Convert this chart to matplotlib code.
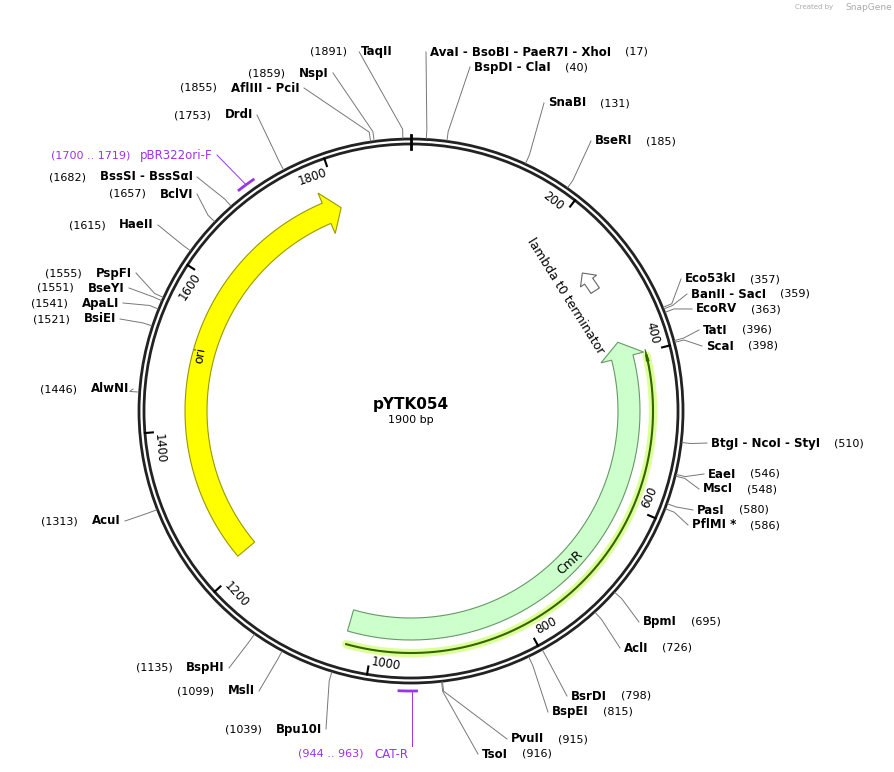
import numpy as np
import matplotlib.pyplot as plt
from matplotlib.patches import Polygon, Circle

TOTAL = 1900
CX, CY, R = 411, 411, 270

# enzyme sites: (name, position, label x, label y)
sites_right = [
    ("AvaI - BsoBI - PaeR7I - XhoI", 17, 430, 52),
    ("BspDI - ClaI", 40, 474, 67),
    ("SnaBI", 131, 548, 103),
    ("BseRI", 185, 595, 141),
    ("Eco53kI", 357, 685, 279),
    ("BanII - SacI", 359, 691, 294),
    ("EcoRV", 363, 696, 309),
    ("TatI", 396, 703, 330),
    ("ScaI", 398, 706, 346),
    ("BtgI - NcoI - StyI", 510, 711, 443),
    ("EaeI", 546, 708, 474),
    ("MscI", 548, 703, 489),
    ("PasI", 580, 697, 510),
    ("PflMI *", 586, 692, 525),
    ("BpmI", 695, 643, 622),
    ("AclI", 726, 624, 648),
    ("BsrDI", 798, 571, 696),
    ("BspEI", 815, 552, 712),
    ("PvuII", 915, 511, 739),
    ("TsoI", 916, 482, 754),
]
sites_left = [
    ("TaqII", 1891, 393, 52),
    ("NspI", 1859, 329, 73),
    ("AflIII - PciI", 1855, 300, 88),
    ("DrdI", 1753, 253, 115),
    ("BssSI - BssSαI", 1682, 193, 177),
    ("BclVI", 1657, 193, 194),
    ("HaeII", 1615, 154, 225),
    ("PspFI", 1555, 132, 273),
    ("BseYI", 1551, 125, 288),
    ("ApaLI", 1541, 119, 303),
    ("BsiEI", 1521, 116, 319),
    ("AlwNI", 1446, 129, 389),
    ("AcuI", 1313, 121, 521),
    ("BspHI", 1135, 225, 668),
    ("MslI", 1099, 255, 691),
    ("Bpu10I", 1039, 322, 729),
]
primers = [("pBR322ori-F", 1700, 1719, 213, 155),
           ("CAT-R", 944, 963, 408, 754)]
ticks = [200, 400, 600, 800, 1000, 1200, 1400, 1600, 1800]


def pt(pos, r):
    a = np.deg2rad(pos / TOTAL * 360)
    return CX + r * np.sin(a), CY - r * np.cos(a)


def arc_arrow(ax, start, end, r, w, head, fc, ec, forward=True, lw=0.8):
    # arrowhead at end if forward else at start
    if forward:
        body = np.linspace(start, end - head, 60)
        tip, base = end, end - head
    else:
        body = np.linspace(start + head, end, 60)
        tip, base = start, start + head
    outer = [pt(p, r + w / 2) for p in body]
    inner = [pt(p, r - w / 2) for p in body[::-1]]
    if forward:
        poly = outer + [pt(base, r + w), pt(tip, r), pt(base, r - w)] + inner
    else:
        poly = [pt(base, r - w), pt(tip, r), pt(base, r + w)] + outer + inner
    ax.add_patch(Polygon(poly, closed=True, fc=fc, ec=ec, lw=lw, zorder=3))


fig = plt.figure(figsize=(8.95, 7.72), dpi=100)
ax = fig.add_axes([0, 0, 1, 1])
ax.set_xlim(0, 895)
ax.set_ylim(772, 0)
ax.axis("off")
rend = fig.canvas.get_renderer()

ax.add_patch(Circle((CX, CY), 267, fill=False, lw=2, ec="#222222"))
ax.add_patch(Circle((CX, CY), 272, fill=False, lw=2, ec="#222222"))

x0, y0 = pt(0, 262); x1, y1 = pt(0, 276)
ax.plot([x0, x1], [y0, y1], color="black", lw=2)
for t in ticks:
    x0, y0 = pt(t, 259); x1, y1 = pt(t, 267)
    ax.plot([x0, x1], [y0, y1], color="black", lw=1.5)
    th = t / TOTAL * 360
    rot = -th if (th < 90 or th > 270) else 180 - th
    tx, ty = pt(t - 20, 254)
    ax.text(tx, ty, str(t), rotation=rot, ha="center", va="center", fontsize=8.5)

# features
arc_arrow(ax, 1214, 1800, 215, 22, 22, "#ffff00", "#999900", forward=True)
arc_arrow(ax, 378, 1035, 218, 22, 22, "#ccffcc", "#669966", forward=False)
arc_arrow(ax, 270, 300, 220, 10, 14, "white", "#666666", forward=False)
orf = np.linspace(405, 1032, 80)
xs, ys = zip(*[pt(p, 242) for p in orf])
ax.plot(xs, ys, color="#ddff99", lw=6, solid_capstyle="round", zorder=2)
ax.plot(xs, ys, color="#336600", lw=1.5, zorder=3)
arc_arrow(ax, 397, 412, 242, 1.5, 15, "#336600", "#336600", forward=False, lw=0.5)

ax.text(200, 355, "ori", rotation=80, ha="center", va="center", fontsize=9)
ax.text(566, 296, "lambda t0 terminator", rotation=-58, ha="center", va="center", fontsize=9)
ax.text(570, 562, "CmR", rotation=42, ha="center", va="center", fontsize=9)

ax.text(411, 405, "pYTK054", ha="center", va="center", fontsize=11, fontweight="bold")
ax.text(411, 420, "1900 bp", ha="center", va="center", fontsize=8)
ax.text(833, 7, "Created by", ha="right", va="center", fontsize=5, color="#aaaaaa")
ax.text(845, 7, "SnapGene", ha="left", va="center", fontsize=6.5, color="#aaaaaa")

line_c = "#777777"
for name, p, lx, ly in sites_right:
    x0, y0 = pt(p, 273); x1, y1 = pt(p, 282)
    ax.plot([x0, x1, lx - 4], [y0, y1, ly], color=line_c, lw=0.7)
    t = ax.text(lx, ly, name, ha="left", va="center", fontsize=8.5, fontweight="bold")
    bb = t.get_window_extent(rend)
    ax.text(lx + bb.width + 14, ly, f"({p})", ha="left", va="center", fontsize=8)
for name, p, lx, ly in sites_left:
    x0, y0 = pt(p, 273); x1, y1 = pt(p, 282)
    bb = ax.text(lx, ly, name, ha="right", va="center", fontsize=8.5,
                 fontweight="bold").get_window_extent(rend)
    ax.plot([x0, x1, lx - bb.width - 2 if abs(ly - 52) < 1 else lx + 4], [y0, y1, ly],
            color=line_c, lw=0.7)
    ax.text(lx - bb.width - 14, ly, f"({p})", ha="right", va="center", fontsize=8)

purple = "#9933ee"
for name, a, b, lx, ly in primers:
    ps = np.linspace(a, b, 10)
    xs, ys = zip(*[pt(p, 280) for p in ps])
    ax.plot(xs, ys, color=purple, lw=2)
    x0, y0 = pt((a + b) / 2, 280)
    bb = ax.text(lx, ly, name, ha="right", va="center", fontsize=8.5,
                 color=purple).get_window_extent(rend)
    ax.text(lx - bb.width - 10, ly, f"({a} .. {b})", ha="right", va="center",
            fontsize=8, color=purple)
    if ly > 700:
        ax.plot([x0 + 4, x0 + 4], [y0, ly - 8], color=purple, lw=0.7)
    else:
        ax.plot([x0, lx + 4], [y0, ly], color=purple, lw=0.7)

fig.savefig("out.png", dpi=100)
